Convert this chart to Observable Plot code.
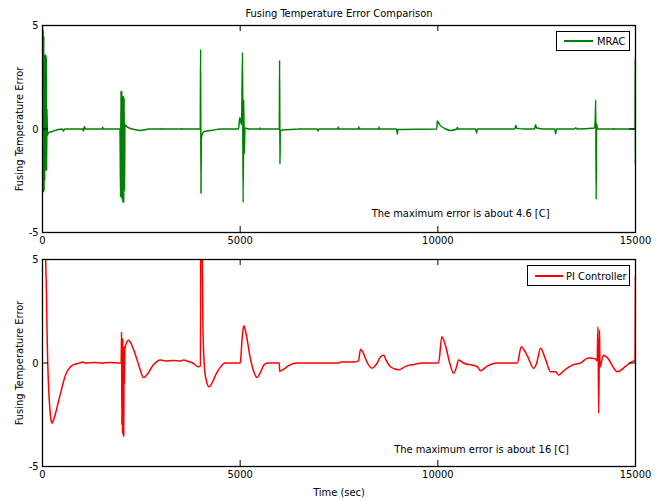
<!DOCTYPE html>
<html>
<head>
<meta charset="utf-8">
<script src="https://cdn.jsdelivr.net/npm/d3@7"></script>
<script src="https://cdn.jsdelivr.net/npm/@observablehq/plot@0.6"></script>
<style>
  body { margin: 0; background: white; }
  #wrap { position: relative; width: 663px; height: 501px; font-family: "Liberation Sans Narrow", "DejaVu Sans Condensed", sans-serif; }
  #wrap svg { position: absolute; left: 0; }
  .legend { position: absolute; border: 1.2px solid black; background: white; box-sizing: border-box; font-size: 11px; }
  .legend .sw { position: absolute; top: 50%; height: 0; border-top: 2px solid; }
  .legend .lb { position: absolute; top: 50%; transform: translateY(-50%); white-space: nowrap; }
</style>
</head>
<body>
<div id="wrap"></div>
<script>
const title = "Fusing Temperature Error Comparison";
const yLabel = "Fusing Temperature Error";
const xLabel = "Time (sec)";
const xTicks = [0, 5000, 10000, 15000];
const yTicks = [-5, 0, 5];
const mracName = "MRAC";
const piName = "PI Controller";
const mracNote = "The maximum error is about 4.6 [C]";
const piNote = "The maximum error is about 16 [C]";

// MRAC error: [time, error]
const mracData = [
  [0,4.9],[8,-3.0],[16,4.8],[24,-3.07],[32,4.5],[40,-3.0],[48,3.6],[56,-2.5],[64,3.6],[72,-2.0],
  [80,3.6],[88,-2.03],[96,3.5],[104,-2.0],[112,1.0],[125,-0.3],[150,-0.18],[250,-0.12],[400,-0.02],
  [500,0],[530,-0.1],[560,0],[1020,0],[1035,-0.1],[1060,0.12],[1080,0],[1510,0],[1520,0.1],[1535,0],
  [1960,0],[1975,-3.3],[1985,1.84],[1995,-3.3],[2005,1.84],[2015,-3.4],[2025,1.6],[2035,-3.56],
  [2045,1.6],[2055,-3.56],[2065,1.5],[2075,-3.0],[2085,0.2],[2140,0.1],[2270,0],[2480,-0.07],
  [2700,0],[3000,0],[3010,0.03],[3020,0],[3510,0],[3520,0.03],[3530,0],[3990,0],[4000,3.85],
  [4008,-3.1],[4018,-0.42],[4080,-0.13],[4330,-0.05],[4500,0],[4960,0],[4990,0.55],[5010,0.4],
  [5035,0.2],[5060,3.7],[5075,-3.55],[5090,1.4],[5105,-1.2],[5120,0.05],[5220,0],[5490,0],
  [5500,0.05],[5510,0],[5990,0],[5998,3.32],[6006,-1.7],[6015,-0.1],[6060,-0.05],[6490,0],
  [6500,0.03],[6510,0],[6950,0],[6970,-0.1],[6990,0],[7470,0],[7480,0.1],[7500,0],[7990,0],
  [8000,0.1],[8020,0],[8500,0],[8510,0.08],[8530,0],[8960,0],[8975,-0.26],[8990,-0.02],[9975,0],
  [9985,0.39],[10050,0.2],[10200,0],[10320,-0.07],[10480,0],[10490,0.07],[10520,0],[10960,0],
  [10980,-0.2],[11000,0],[11950,0],[11970,0.17],[12000,0.03],[12200,0],[12450,0],[12470,0.2],
  [12500,0.05],[12700,0],[12960,0],[12980,-0.23],[13000,0],[13450,0],[13480,0.05],[13550,0],
  [13960,0.05],[13980,0.3],[13995,1.4],[14005,-3.4],[14015,0.25],[14040,0],[14440,0],[14450,0.03],
  [14460,0],[14990,0],[14995,3.4],[15000,-1.7]
].map(([t, v]) => ({t, v}));

// PI controller error: [time, error]
const piData = [
  [0,16],[60,8],[80,5],[100,3.4],[120,1],[150,-1],[190,-2.3],[220,-2.8],[245,-2.9],[270,-2.8],
  [329,-2.43],[455,-1.47],[582,-0.58],[708,-0.18],[835,-0.05],[950,0],[1000,0.05],[1100,0],
  [1300,0.03],[1500,0],[1700,0.03],[1990,0],[2000,1.5],[2008,-3.0],[2016,0.8],[2024,-3.4],
  [2032,1.2],[2040,-3.5],[2048,0.5],[2056,-3.56],[2064,0.8],[2072,-1.0],[2085,0.7],[2110,0.9],
  [2180,1.1],[2250,0.9],[2350,0.4],[2450,-0.2],[2560,-0.7],[2650,-0.55],[2800,-0.1],[2990,0.15],
  [3100,0.1],[3300,0.12],[3500,0.1],[3570,0.15],[3650,0.1],[3800,0],[3950,-0.18],[3995,-0.15],
  [4005,9],[4040,5],[4060,1.5],[4100,-0.3],[4150,-0.9],[4210,-1.15],[4280,-1.0],[4400,-0.5],
  [4500,-0.2],[4620,0],[5000,0],[5010,0.1],[5050,1.2],[5090,1.8],[5140,1.5],[5250,0.3],
  [5340,-0.4],[5430,-0.7],[5500,-0.5],[5600,-0.1],[5700,0],[5990,0],[6000,-0.4],[6100,-0.3],
  [6250,-0.1],[6440,0],[7500,0],[7540,0.05],[7900,0.05],[7990,0.1],[8045,0.67],[8120,0.45],
  [8220,0],[8340,-0.25],[8450,-0.05],[8550,0.3],[8630,0.38],[8700,0.1],[8800,-0.18],[9010,-0.33],
  [9200,-0.15],[9390,-0.07],[9600,0],[10020,0],[10100,1.27],[10200,0.8],[10300,0],[10400,-0.5],
  [10470,-0.2],[10525,0.15],[10650,0],[11000,-0.18],[11080,-0.37],[11250,-0.15],[11500,0],
  [12010,0],[12110,0.79],[12250,0.4],[12430,-0.26],[12500,0],[12600,0.71],[12720,0.2],[12850,-0.42],
  [12980,-0.42],[13060,-0.58],[13200,-0.35],[13400,-0.1],[13610,0],[13810,0.24],[13990,0.2],
  [14030,0.1],[14050,1.75],[14070,-2.43],[14090,1.6],[14100,-0.2],[14185,0.38],[14290,0.25],
  [14540,-0.42],[14790,-0.1],[14960,0.1],[14990,0.1],[15000,4.2]
].map(([t, v]) => ({t, v}));

const font = `"Liberation Sans Narrow", "DejaVu Sans Condensed", sans-serif`;
const fs = 11;
const yFmt = d => d < 0 ? "-" + (-d) : String(d);

function panel({data, color, note, noteT, noteV, height, marginTop, marginBottom, extra}) {
  const tickX = 6 * 15000 / 593;
  const tickY = 6 * 10 / 207;
  return Plot.plot({
    width: 663, height, marginTop, marginBottom, marginLeft: 42, marginRight: 28,
    style: {fontFamily: font, fontSize: fs + "px", background: "white", overflow: "visible"},
    x: {domain: [0, 15000]},
    y: {domain: [-5, 5]},
    marks: [
      Plot.line(data, {x: "t", y: "v", stroke: color, strokeWidth: 1.5, curve: "monotone-x", clip: true}),
      Plot.ruleX(xTicks.slice(1, -1), {y1: 5, y2: 5 - tickY, stroke: "black"}),
      Plot.ruleX(xTicks.slice(1, -1), {y1: -5, y2: -5 + tickY, stroke: "black"}),
      Plot.ruleY([0], {x1: 0, x2: tickX, stroke: "black"}),
      Plot.ruleY([0], {x1: 15000, x2: 15000 - tickX, stroke: "black"}),
      Plot.frame({stroke: "black", strokeWidth: 1.3}),
      Plot.axisX({ticks: xTicks, tickSize: 0, tickPadding: 4, label: null, tickFormat: d3.format("d"), fontSize: fs}),
      Plot.axisY({ticks: yTicks, tickSize: 0, tickPadding: 4, label: null, tickFormat: yFmt, fontSize: fs}),
      Plot.text([yLabel], {frameAnchor: "left", textAnchor: "middle", lineAnchor: "middle", rotate: -90, dx: -23, fontSize: fs}),
      Plot.text([note], {x: noteT, y: noteV, fontSize: fs}),
      ...extra
    ]
  });
}

const topChart = panel({
  data: mracData, color: "#008000", note: mracNote, noteT: 10575, noteV: -4.1,
  height: 250, marginTop: 25, marginBottom: 18,
  extra: [Plot.text([title], {frameAnchor: "top", lineAnchor: "middle", dy: -12, fontSize: fs})]
});
const bottomChart = panel({
  data: piData, color: "#ff0000", note: piNote, noteT: 11107, noteV: -4.2,
  height: 251, marginTop: 9, marginBottom: 35,
  extra: [Plot.text([xLabel], {frameAnchor: "bottom", lineAnchor: "middle", dy: 26, fontSize: fs})]
});
const wrap = document.getElementById("wrap");
topChart.style.top = "0px";
bottomChart.style.top = "250px";
wrap.appendChild(topChart);
wrap.appendChild(bottomChart);

function legend(name, color, left, topPx, w, h, swL, swW, lbL) {
  const d = document.createElement("div");
  d.className = "legend";
  Object.assign(d.style, {left: left + "px", top: topPx + "px", width: w + "px", height: h + "px"});
  const s = document.createElement("div");
  s.className = "sw";
  Object.assign(s.style, {left: swL + "px", width: swW + "px", borderColor: color, marginTop: "-1px"});
  const l = document.createElement("div");
  l.className = "lb";
  l.style.left = lbL + "px";
  l.textContent = name;
  d.appendChild(s); d.appendChild(l);
  wrap.appendChild(d);
}
legend(mracName, "#008000", 556, 31, 74, 20, 7, 29, 40);
legend(piName, "#ff0000", 527, 265, 103, 21, 7, 28, 38);
</script>
</body>
</html>
